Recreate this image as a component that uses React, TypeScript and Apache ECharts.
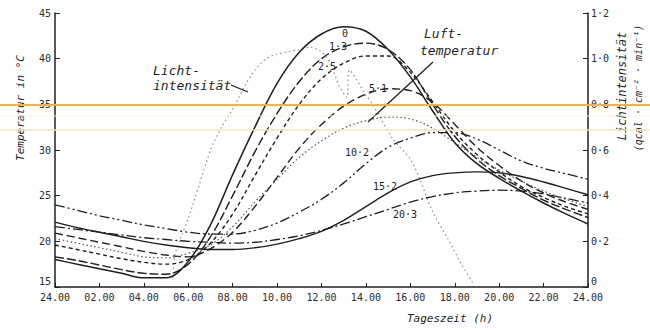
import React, { useEffect, useRef } from "react";
import * as echarts from "echarts";

// Hours of day (0 = 24.00 of previous day)
const HOURS = [0,1,2,3,4,5,6,7,8,9,10,11,12,13,14,15,16,17,18,19,20,21,22,23,24];

// Soil temperature at depth (cm), °C
const T_0    = [18.0,17.5,17.0,16.5,16.0,16.0,17.8,21.8,27.3,32.5,37.3,40.7,42.7,43.5,43.0,41.0,38.0,34.3,30.8,28.5,26.9,25.5,24.2,23.0,21.9];
const T_1_3  = [18.3,17.9,17.4,16.9,16.5,16.4,17.5,20.5,25.0,29.8,34.0,37.5,40.0,41.3,41.7,41.0,38.8,35.0,31.5,29.0,27.2,25.8,24.5,23.5,22.6];
const T_2_5  = [19.6,19.1,18.6,18.1,17.7,17.5,18.0,19.8,23.0,27.2,31.3,35.0,37.8,39.5,40.3,40.3,38.5,35.3,32.0,29.5,27.6,26.0,24.8,23.8,23.0];
const T_5_1  = [20.9,20.4,19.9,19.4,18.9,18.5,18.3,19.2,21.0,23.8,27.0,30.2,32.8,34.8,36.1,36.7,36.5,35.2,32.8,30.3,28.3,26.6,25.3,24.3,23.5];
const T_10_2 = [24.0,23.4,22.8,22.3,21.8,21.4,21.0,20.8,20.8,21.2,22.0,23.2,24.6,26.4,28.5,30.3,31.3,31.9,31.9,31.2,30.0,28.8,28.0,27.4,26.8];
const T_15_2 = [22.1,21.5,21.0,20.5,20.0,19.6,19.3,19.1,19.1,19.3,19.7,20.3,21.1,22.3,23.8,25.3,26.5,27.2,27.5,27.6,27.5,27.1,26.5,25.8,25.1];
const T_20_3 = [21.6,21.3,21.0,20.7,20.4,20.2,20.0,19.9,19.8,19.9,20.2,20.6,21.2,21.9,22.7,23.5,24.3,24.9,25.3,25.5,25.6,25.5,25.2,24.7,24.2];
// Air temperature, °C
const T_AIR  = [20.3,19.8,19.3,18.8,18.3,18.2,18.7,19.6,21.6,24.3,26.8,29.2,31.0,32.4,33.2,33.6,33.4,32.4,30.8,29.2,27.8,26.6,25.5,24.6,23.8];

// Light intensity (qcal·cm⁻²·min⁻¹)
const LIGHT_H = [5.3,5.4,5.6,6.0,6.7,7.0,7.5,8.0,8.6,9.0,9.5,10.0,10.5,11.0,11.5,12.0,12.4,12.8,13.15,13.25,14.0,14.3,15.2,16.0,16.4,17.0,17.7,18.3,18.8];
const LIGHT_V = [0.04,0.14,0.2,0.3,0.51,0.6,0.7,0.78,0.89,0.95,1.0,1.02,1.03,1.04,1.05,1.03,0.98,0.88,0.83,0.95,0.84,0.8,0.65,0.56,0.48,0.33,0.21,0.1,0.02];

const X_TICK_LABELS = ["24.00","02.00","04.00","06.00","08.00","10.00","12.00","14.00","16.00","18.00","20.00","22.00","24.00"];
const LEFT_TICK_LABELS = ["15","20","25","30","35","40","45"];
const RIGHT_TICK_LABELS = ["0","0·2","0·4","0·6","0·8","1·0","1·2"];

const SERIES_NAMES = ["0","1·3","2·5","5·1","10·2","15·2","20·3"];

const INK = "#1f1f1f";
const MONO = "'DejaVu Sans Mono', monospace";

export default function App() {
  const ref = useRef<HTMLDivElement | null>(null);

  useEffect(() => {
    if (!ref.current) return;
    const chart = echarts.init(ref.current, undefined, { renderer: "svg" });
    const pairs = (arr: number[]) => HOURS.map((h, i) => [h, arr[i]]);
    const mk = (name: string, data: number[], type: any, width: number, color = INK) => ({
      name,
      type: "line",
      data: pairs(data),
      smooth: 0.35,
      symbol: "none",
      lineStyle: { color, width, type },
      z: 3,
    });

    const txt = (text: string, x: number, y: number, size: number, opts: any = {}) => ({
      type: "text",
      x,
      y,
      rotation: opts.rotation || 0,
      z: 50,
      style: {
        text,
        font: `${opts.italic === false ? "" : "italic "}${size}px ${MONO}`,
        fill: opts.fill || INK,
        textAlign: opts.align || "left",
        align: opts.align || "left",
        textVerticalAlign: "middle",
        verticalAlign: "middle",
      },
    });

    const lowRich = { lo: { padding: [0, 0, 12, 0], fontSize: 10, fontFamily: MONO, color: "#2a2a2a" } };

    chart.setOption({
      animation: false,
      backgroundColor: "#ffffff",
      grid: { left: 55, right: 62, top: 13, bottom: 43 },
      xAxis: {
        type: "value",
        min: 0,
        max: 24,
        interval: 2,
        axisLine: { show: true, lineStyle: { color: INK, width: 1.5 } },
        axisTick: { show: true, inside: true, length: 4, lineStyle: { color: INK } },
        splitLine: { show: false },
        axisLabel: {
          margin: 5,
          color: "#2a2a2a",
          fontSize: 10,
          fontFamily: MONO,
          formatter: (v: number) => X_TICK_LABELS[Math.round(v / 2)] ?? "",
        },
      },
      yAxis: [
        {
          type: "value",
          position: "left",
          min: 15,
          max: 45,
          interval: 5,
          axisLine: { show: true, lineStyle: { color: INK, width: 1.5 } },
          axisTick: { show: true, inside: true, length: 5, lineStyle: { color: INK } },
          splitLine: { show: false },
          axisLabel: {
            margin: 4,
            color: "#2a2a2a",
            fontSize: 10,
            fontFamily: MONO,
            rich: lowRich,
            formatter: (v: number) => {
              const i = Math.round((v - 15) / 5);
              const s = LEFT_TICK_LABELS[i] ?? "";
              return i === 0 ? `{lo|${s}}` : s;
            },
          },
        },
        {
          type: "value",
          position: "right",
          min: 0,
          max: 1.2,
          interval: 0.2,
          axisLine: { show: true, lineStyle: { color: INK, width: 1.5 } },
          axisTick: { show: true, inside: true, length: 5, lineStyle: { color: INK } },
          splitLine: { show: false },
          axisLabel: {
            margin: 3,
            color: "#2a2a2a",
            fontSize: 10,
            fontFamily: MONO,
            rich: lowRich,
            formatter: (v: number) => {
              const i = Math.round(v / 0.2);
              const s = RIGHT_TICK_LABELS[i] ?? "";
              return i === 0 ? `{lo|${s}}` : s;
            },
          },
        },
      ],
      series: [
        mk(SERIES_NAMES[0], T_0, "solid", 1.5),
        mk(SERIES_NAMES[1], T_1_3, [9, 3], 1.4),
        mk(SERIES_NAMES[2], T_2_5, [4, 3], 1.4),
        mk(SERIES_NAMES[3], T_5_1, [8, 4], 1.4),
        mk(SERIES_NAMES[4], T_10_2, [10, 3, 2, 3, 2, 3], 1.3),
        mk(SERIES_NAMES[5], T_15_2, "solid", 1.4),
        mk(SERIES_NAMES[6], T_20_3, [10, 3, 2, 3], 1.3),
        mk("Lufttemperatur", T_AIR, [1.5, 2.5], 1.2, "#555555"),
        {
          name: "Lichtintensität",
          type: "line",
          yAxisIndex: 1,
          data: LIGHT_H.map((h, i) => [h, LIGHT_V[i]]),
          smooth: 0.25,
          symbol: "none",
          lineStyle: { color: "#8a8a8a", width: 1.2, type: [1.5, 3] },
          z: 2,
        },
      ],
      graphic: [
        // scan highlight lines
        { type: "line", z: 60, shape: { x1: 0, y1: 105, x2: 650, y2: 105 }, style: { stroke: "#eab54c", lineWidth: 2 } },
        { type: "line", z: 60, shape: { x1: 0, y1: 116, x2: 650, y2: 116 }, style: { stroke: "#f6f0de", lineWidth: 1 } },
        { type: "line", z: 60, shape: { x1: 0, y1: 130, x2: 650, y2: 130 }, style: { stroke: "#f2e3b8", lineWidth: 1.5 } },
        // axis titles
        txt("Temperatur in °C", 20, 108, 11, { rotation: Math.PI / 2, align: "center" }),
        txt("Lichtintensität", 622, 86, 12, { rotation: Math.PI / 2, align: "center" }),
        txt("(qcal · cm⁻² · min⁻¹)", 638, 88, 10, { rotation: Math.PI / 2, align: "center" }),
        txt("Tageszeit (h)", 450, 318, 11, { align: "center" }),
        // annotations
        txt("Licht-", 153, 70, 13),
        txt("intensität", 153, 85, 13),
        { type: "line", z: 50, shape: { x1: 231, y1: 85, x2: 248, y2: 92 }, style: { stroke: INK, lineWidth: 1.3 } },
        txt("Luft-", 424, 33, 13),
        txt("temperatur", 420, 50, 13),
        { type: "line", z: 50, shape: { x1: 433, y1: 62, x2: 368, y2: 122 }, style: { stroke: INK, lineWidth: 1.3 } },
        // depth labels (cm)
        txt(SERIES_NAMES[0], 345, 33, 10, { align: "center", italic: false }),
        txt(SERIES_NAMES[1], 338, 46, 10, { align: "center", italic: false }),
        txt(SERIES_NAMES[2], 327, 66, 10, { align: "center", italic: false }),
        txt(SERIES_NAMES[3], 378, 88, 10, { align: "center", italic: false }),
        txt(SERIES_NAMES[4], 357, 152, 10, { align: "center", italic: false }),
        txt(SERIES_NAMES[5], 385, 186, 10, { align: "center", italic: false }),
        txt(SERIES_NAMES[6], 405, 214, 10, { align: "center", italic: false }),
      ],
    });
    return () => chart.dispose();
  }, []);

  return (
    <div
      ref={ref}
      style={{ position: "fixed", left: 0, top: 0, width: 650, height: 330, background: "#fff" }}
    />
  );
}
